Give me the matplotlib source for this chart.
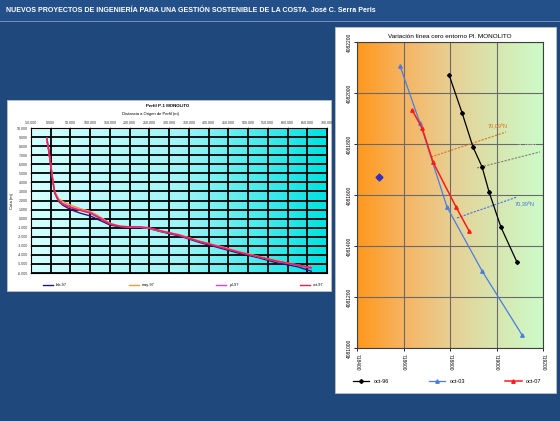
import numpy as np
import matplotlib
matplotlib.use("Agg")
import matplotlib.pyplot as plt
from matplotlib.colors import LinearSegmentedColormap
from matplotlib.patches import Rectangle
from matplotlib.ticker import FuncFormatter

plt.rcParams['font.family'] = ['Liberation Sans', 'DejaVu Sans']

# slide title
slide_title = "NUEVOS PROYECTOS DE INGENIERÍA PARA UNA GESTIÓN SOSTENIBLE DE LA COSTA. José C. Serra Peris"

# left chart: beach profile
perfil_title = "Perfil P-1 MONOLITO"
perfil_xlabel = "Distancia a Origen de Perfil (m)"
perfil_ylabel = "Cota (m)"
distancia = [-10, -5, 0, 5, 10, 20, 30, 50, 75, 100, 125, 150, 175, 200, 225,
             250, 275, 325, 375, 425, 475, 525, 575, 625, 660]
cota_feb = [8.7, 7.4, 5.8, 4.2, 2.8, 1.9, 1.5, 1.0, 0.6, 0.3, -0.2, -0.7, -0.9,
            -1.0, -1.0, -1.1, -1.4, -1.9, -2.6, -3.2, -3.8, -4.3, -4.9, -5.3, -5.8]
cota_may = [8.8, 7.5, 6.0, 4.4, 3.0, 2.2, 1.9, 1.5, 1.1, 0.8, 0.2, -0.5, -0.8,
            -0.9, -0.95, -1.05, -1.35, -1.75, -2.45, -3.0, -3.6, -4.15, -4.65, -5.1, -5.4]
cota_jul = [8.9, 7.6, 5.9, 4.3, 2.9, 2.0, 1.7, 1.3, 0.95, 0.7, 0.1, -0.55, -0.85,
            -0.95, -0.95, -1.05, -1.3, -1.85, -2.5, -3.05, -3.65, -4.2, -4.75, -5.15, -5.5]
cota_oct = [8.9, 7.6, 5.9, 4.3, 2.9, 2.0, 1.6, 1.2, 0.9, 0.6, 0.0, -0.6, -0.85,
            -0.9, -0.9, -1.0, -1.3, -1.8, -2.5, -3.1, -3.7, -4.2, -4.7, -5.1, -5.4]
perfil_series = [("feb-97", cota_feb, "#1a1a80"), ("may-97", cota_may, "#ff9933"),
                 ("jul-97", cota_jul, "#cc44dd"), ("oct-97", cota_oct, "#ff1a4a")]

# right chart: shoreline position
linea_title = "Variación línea cero entorno Pl. MONOLITO"
x_oct96 = [718796, 718852, 718899, 718938, 718968, 719019, 719088]
y_oct96 = [4082071, 4081922, 4081788, 4081710, 4081612, 4081474, 4081337]
x_oct03 = [718585, 718671, 718787, 718938, 719110]
y_oct03 = [4082106, 4081882, 4081553, 4081302, 4081051]
x_oct07 = [718637, 718680, 718727, 718826, 718882]
y_oct07 = [4081933, 4081863, 4081729, 4081553, 4081459]
punto_x, punto_y = [718495], [4081670]
# transects (start, end) and their azimuth labels
transectos = [
    ((718718, 4081749), (719041, 4081847), "#e07020", "70,09ºN", (719004, 4081867)),
    ((718916, 4081706), (719187, 4081769), "#808070", "71,75ºN", (719131, 4081794)),
    ((718830, 4081510), (719088, 4081592), "#4a6ee0", "70,39ºN", (719120, 4081561)),
]

W, H = 560, 421
fig = plt.figure(figsize=(W / 100, H / 100), dpi=100, facecolor="#1f497d")


def rect(x0, y0, x1, y1):
    return [x0 / W, 1 - y1 / H, (x1 - x0) / W, (y1 - y0) / H]


# header band
fig.patches.append(Rectangle((0, 1 - 21 / H), 1, 21 / H, transform=fig.transFigure,
                             facecolor="#24508a", edgecolor="none", zorder=-2))
fig.patches.append(Rectangle((0, 1 - 22 / H), 1, 1.2 / H, transform=fig.transFigure,
                             facecolor="#6f8fbf", edgecolor="none", zorder=-2))
fig.text(6 / W, 1 - 11 / H, slide_title, color="white", fontsize=5.1,
         fontweight="bold", va="center", ha="left")

# white panels
for r in [rect(7, 100, 331, 291), rect(335, 27, 556, 393)]:
    fig.patches.append(Rectangle((r[0], r[1]), r[2], r[3], transform=fig.transFigure,
                                 facecolor="white", edgecolor="#c0c0c0", lw=0.6, zorder=-1))

# ---- left chart ----
ax1 = fig.add_axes(rect(31, 128, 327, 273))
cmap1 = LinearSegmentedColormap.from_list("cyan", ["#d4ffff", "#9ff5f7", "#00e2e2"])
ax1.imshow(np.linspace(0, 1, 256)[None, :], aspect="auto", cmap=cmap1,
           extent=[-50, 700, -6, 10], zorder=0)
for label, cota, color in perfil_series:
    ax1.plot(distancia, cota, color=color, lw=1.0, label=label, zorder=3)
ax1.set_xlim(-50, 700)
ax1.set_ylim(-6, 10)
ax1.set_xticks(np.arange(-50, 701, 50))
ax1.set_yticks(np.arange(-6, 11, 1))
ax1.xaxis.tick_top()
fmt3 = FuncFormatter(lambda v, p: f"{v:.3f}")
ax1.xaxis.set_major_formatter(fmt3)
ax1.yaxis.set_major_formatter(fmt3)
ax1.tick_params(labelsize=2.6, length=1, width=0.4, pad=1, colors="#333333")
ax1.grid(True, color="black", lw=1.3)
for s in ax1.spines.values():
    s.set_color("black")
    s.set_linewidth(0.8)
ax1.set_ylabel(perfil_ylabel, fontsize=3, labelpad=2)
fig.text(168 / W, 1 - 106 / H, perfil_title, fontsize=3.2, fontweight="bold",
         ha="center", va="center")
fig.text(150 / W, 1 - 114 / H, perfil_xlabel, fontsize=3, ha="center", va="center")
ax1.legend(loc="center", bbox_to_anchor=(0.03, -0.1, 0.97, 0.03), ncol=4, mode="expand",
           frameon=False, fontsize=2.8, handlelength=2.5)

# ---- right chart ----
ax2 = fig.add_axes(rect(357, 42, 543, 348))
cmap2 = LinearSegmentedColormap.from_list(
    "orange_green", ["#ff981c", "#f6b462", "#e8cf92", "#d8e6b0", "#ccfbc8"])
ax2.imshow(np.linspace(0, 1, 256)[None, :], aspect="auto", cmap=cmap2,
           extent=[718400, 719200, 4081000, 4082200], zorder=0)
ax2.plot(x_oct96, y_oct96, color="black", lw=0.9, marker="D", ms=2, label="oct-96", zorder=4)
ax2.plot(x_oct03, y_oct03, color="#4a7ce6", lw=0.9, marker="^", ms=2.5, label="oct-03", zorder=4)
ax2.plot(x_oct07, y_oct07, color="#ff1a1a", lw=1.1, marker="^", ms=2.5, label="oct-07", zorder=4)
ax2.plot(punto_x, punto_y, marker="D", ms=3.5, color="#3030c0", ls="none", zorder=4)
for (p0, p1, color, label, pos) in transectos:
    ax2.plot([p0[0], p1[0]], [p0[1], p1[1]], color=color, lw=0.8, ls=(0, (2, 1.2)), zorder=3)
    tcolor = "#e8e8e0" if color == "#808070" else color
    ax2.text(pos[0], pos[1], label, color=tcolor, fontsize=4, ha="center", va="center", zorder=5)
ax2.set_xlim(718400, 719200)
ax2.set_ylim(4081000, 4082200)
ax2.set_xticks(np.arange(718400, 719201, 200))
ax2.set_yticks(np.arange(4081000, 4082201, 200))
intfmt = FuncFormatter(lambda v, p: f"{v:.0f}")
ax2.xaxis.set_major_formatter(intfmt)
ax2.yaxis.set_major_formatter(intfmt)
ax2.tick_params(labelsize=3.5, length=2, width=0.6, pad=2)
plt.setp(ax2.get_xticklabels(), rotation=-90)
plt.setp(ax2.get_yticklabels(), rotation=90, va="center")
ax2.grid(True, color="#6a6a6a", lw=0.8)
for s in ax2.spines.values():
    s.set_color("#404040")
    s.set_linewidth(0.8)
ax2.set_title(linea_title, fontsize=4.6, pad=3)
ax2.legend(loc="center", bbox_to_anchor=(-0.05, -0.125, 1.07, 0.03), ncol=3, mode="expand",
           frameon=False, fontsize=4, handlelength=3)

fig.savefig("out.png", dpi=100, facecolor=fig.get_facecolor())
